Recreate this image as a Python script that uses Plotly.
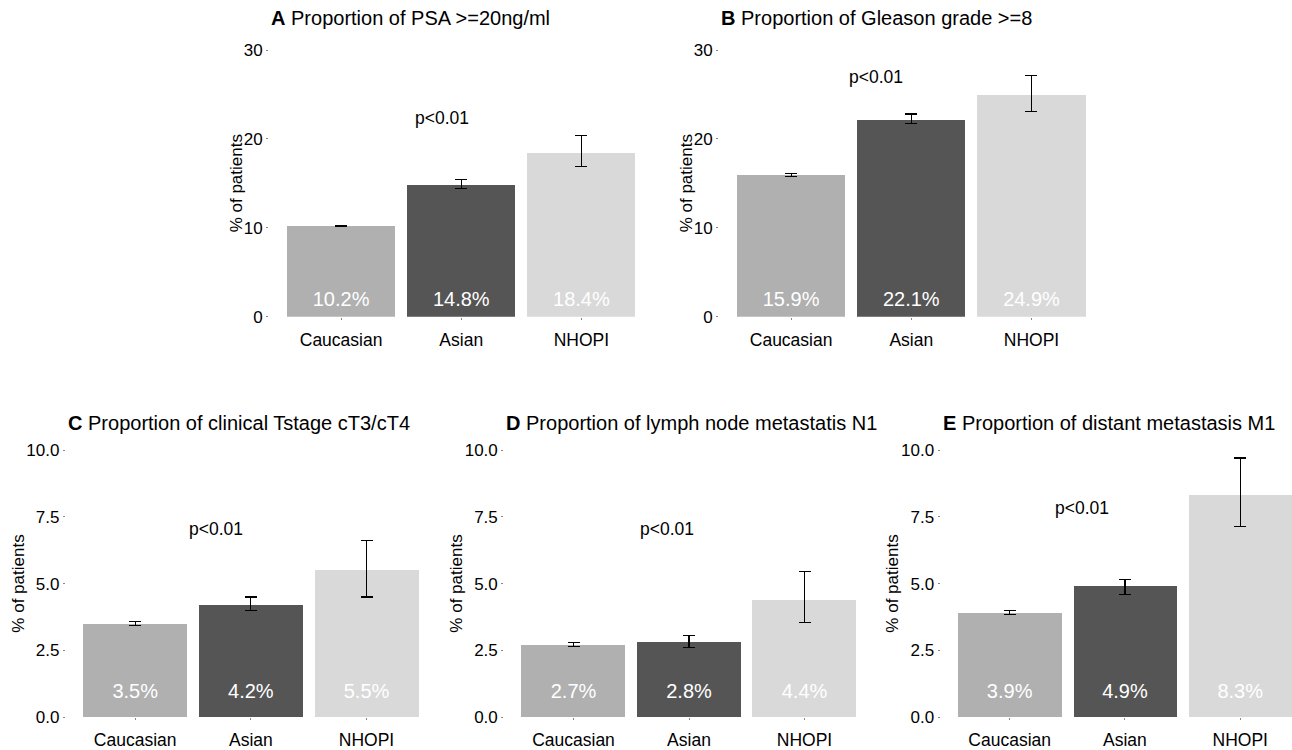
import plotly.graph_objects as go

categories = ["Caucasian", "Asian", "NHOPI"]

psa = [10.2, 14.8, 18.4]
psa_lo = [10.1, 14.45, 16.85]
psa_hi = [10.3, 15.4, 20.35]

gleason = [15.9, 22.1, 24.9]
gleason_lo = [15.8, 21.7, 23.1]
gleason_hi = [16.1, 22.8, 27.1]

tstage = [3.5, 4.2, 5.5]
tstage_lo = [3.45, 4.0, 4.5]
tstage_hi = [3.6, 4.5, 6.6]

n1 = [2.7, 2.8, 4.4]
n1_lo = [2.65, 2.6, 3.55]
n1_hi = [2.8, 3.05, 5.45]

m1 = [3.9, 4.9, 8.3]
m1_lo = [3.85, 4.6, 7.15]
m1_hi = [4.0, 5.15, 9.7]

titles = [
    ("A", "Proportion of PSA >=20ng/ml"),
    ("B", "Proportion of Gleason grade >=8"),
    ("C", "Proportion of clinical Tstage cT3/cT4"),
    ("D", "Proportion of lymph node metastatis N1"),
    ("E", "Proportion of distant metastasis M1"),
]
pvalues = ["p<0.01"] * 5

W, H = 1292, 750
FONT = "Liberation Sans, Arial, Helvetica, sans-serif"
bar_colors = ["#B0B0B0", "#555555", "#D9D9D9"]

panels = [
    dict(vals=psa, lo=psa_lo, hi=psa_hi, px=(269, 653.5), py=(50, 316.7), xr=(0.4, 3.6),
         yr=(0, 30), tickvals=[0, 10, 20, 30], ticktext=["0", "10", "20", "30"],
         plab=(1.84, 22.4), laby=1.8, ytx=236, ty=18),
    dict(vals=gleason, lo=gleason_lo, hi=gleason_hi, px=(719, 1103.6), py=(50, 316.7), xr=(0.4, 3.6),
         yr=(0, 30), tickvals=[0, 10, 20, 30], ticktext=["0", "10", "20", "30"],
         plab=(1.71, 27.0), laby=1.8, ytx=686, ty=18),
    dict(vals=tstage, lo=tstage_lo, hi=tstage_hi, px=(65.8, 435.9), py=(450, 717.3), xr=(0.4, 3.6),
         yr=(0, 10), tickvals=[0, 2.5, 5, 7.5, 10], ticktext=["0.0", "2.5", "5.0", "7.5", "10.0"],
         plab=(1.70, 7.04), laby=0.9, ytx=19, ty=423),
    dict(vals=n1, lo=n1_lo, hi=n1_hi, px=(504.2, 873.8), py=(450, 717.3), xr=(0.4, 3.6),
         yr=(0, 10), tickvals=[0, 2.5, 5, 7.5, 10], ticktext=["0.0", "2.5", "5.0", "7.5", "10.0"],
         plab=(1.81, 7.04), laby=0.9, ytx=457, ty=423),
    dict(vals=m1, lo=m1_lo, hi=m1_hi, px=(940.5, 1292), py=(450, 717.3), xr=(0.4, 3.449),
         yr=(0, 10), tickvals=[0, 2.5, 5, 7.5, 10], ticktext=["0.0", "2.5", "5.0", "7.5", "10.0"],
         plab=(1.63, 7.82), laby=0.9, ytx=893, ty=423),
]

fig = go.Figure()
annotations = []
xs = [1, 2, 3]

for i, p in enumerate(panels):
    k = "" if i == 0 else str(i + 1)
    xa, ya = "x" + k, "y" + k
    vals = p["vals"]
    fig.add_trace(go.Bar(
        x=xs, y=vals, width=0.9, marker=dict(color=bar_colors, line=dict(width=0)),
        error_y=dict(type="data", symmetric=False,
                     array=[h - v for h, v in zip(p["hi"], vals)],
                     arrayminus=[v - l for v, l in zip(vals, p["lo"])],
                     color="black", thickness=1.1, width=6),
        xaxis=xa, yaxis=ya, showlegend=False, hoverinfo="skip", cliponaxis=False))
    fig.add_trace(go.Scatter(
        x=xs, y=[p["laby"]] * 3, mode="text", text=[f"{v:.1f}%" for v in vals],
        textfont=dict(family=FONT, size=20, color="white"),
        textposition="middle center", xaxis=xa, yaxis=ya, showlegend=False, hoverinfo="skip"))
    xd = [p["px"][0] / W, min(p["px"][1] / W, 1)]
    yd = [1 - p["py"][1] / H, 1 - p["py"][0] / H]
    fig.update_layout(**{
        ("xaxis" + k): dict(domain=xd, range=list(p["xr"]), tickvals=xs, ticktext=categories,
                            showgrid=False, zeroline=False, showline=False, ticks="outside",
                            ticklen=2, tickwidth=1, tickcolor="#888", ticklabelstandoff=5,
                            tickfont=dict(family=FONT, size=17.5, color="black"),
                            anchor=ya, fixedrange=True, automargin=False),
        ("yaxis" + k): dict(domain=yd, range=list(p["yr"]), tickvals=p["tickvals"],
                            ticktext=p["ticktext"], showgrid=False, zeroline=False, showline=False,
                            ticks="outside", ticklen=2, tickwidth=1, tickcolor="#888",
                            ticklabelstandoff=0,
                            tickfont=dict(family=FONT, size=17, color="black"),
                            anchor=xa, fixedrange=True, automargin=False),
    })
    annotations.append(dict(x=p["plab"][0], y=p["plab"][1], xref=xa, yref=ya, text=pvalues[i],
                            showarrow=False, font=dict(family=FONT, size=17.5, color="black"),
                            xanchor="center", yanchor="middle"))
    letter, ttl = titles[i]
    annotations.append(dict(x=p["px"][0] / W, y=1 - p["ty"] / H, xref="paper", yref="paper",
                            text=f"<b>{letter}</b> {ttl}", showarrow=False,
                            font=dict(family=FONT, size=20, color="black"),
                            xanchor="left", yanchor="middle"))
    annotations.append(dict(x=p["ytx"] / W, y=1 - (p["py"][0] + p["py"][1]) / 2 / H,
                            xref="paper", yref="paper", text="% of patients", textangle=-90,
                            showarrow=False, font=dict(family=FONT, size=17, color="black"),
                            xanchor="center", yanchor="middle"))

fig.update_layout(width=W, height=H, margin=dict(l=0, r=0, t=0, b=0, pad=0, autoexpand=False),
                  paper_bgcolor="white", plot_bgcolor="white", annotations=annotations,
                  bargap=0)
fig.write_html("out.html", config={"displayModeBar": False},
               post_script="document.body.style.margin='0';document.body.style.overflow='hidden';")
